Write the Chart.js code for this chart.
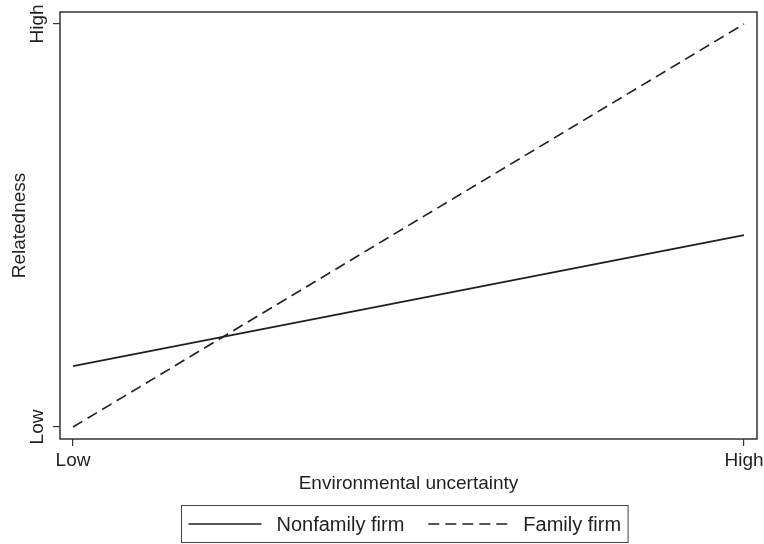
<!DOCTYPE html>
<html>
<head>
<meta charset="utf-8">
<script src="https://cdn.jsdelivr.net/npm/chart.js@4"></script>
<style>
  html, body { margin: 0; padding: 0; background: #fff; }
  #wrap { width: 764px; height: 544px; }
</style>
</head>
<body>
<div id="wrap"><canvas id="chart" width="764" height="544"></canvas></div>
<script>
// Data (0 = Low, 1 = High)
const xTickLabels = ['Low', 'High'];
const yTickLabels = ['Low', 'High'];
const uncertainty = [0, 1];
const nonfamilyFirm = [0.151, 0.476];
const familyFirm = [0.0, 1.0];
const seriesNames = ['Nonfamily firm', 'Family firm'];

const FONT = '"Liberation Sans", Arial, Helvetica, sans-serif';
const INK = '#1f1f1f';

function points(ys) {
    return uncertainty.map((x, i) => ({ x: x, y: ys[i] }));
}

// frame round the plot area
const frame = {
    id: 'frame',
    afterDatasetsDraw(chart) {
        const a = chart.chartArea;
        const ctx = chart.ctx;
        ctx.save();
        ctx.strokeStyle = '#333';
        ctx.lineWidth = 1.5;
        ctx.strokeRect(a.left, a.top, a.right - a.left, a.bottom - a.top);
        ctx.restore();
    }
};

// boxed legend under the axis title
const boxLegend = {
    id: 'boxLegend',
    afterDraw(chart) {
        const ctx = chart.ctx;
        const sets = chart.data.datasets;
        ctx.save();
        ctx.font = '20px ' + FONT;
        const sample = [73, 80];
        const gap = 15, itemGap = 24, pad = 7;
        let total = pad * 2;
        sets.forEach((ds, i) => {
            total += sample[i] + gap + ctx.measureText(ds.label).width;
            if (i > 0) total += itemGap;
        });
        const left = Math.round(404 - total / 2) + 0.5;
        const top = 505.5, h = 37, mid = top + h / 2;
        ctx.strokeStyle = '#444';
        ctx.lineWidth = 1;
        ctx.strokeRect(left, top, total, h);
        let x = left + pad;
        sets.forEach((ds, i) => {
            if (i > 0) x += itemGap;
            ctx.beginPath();
            ctx.setLineDash(ds.borderDash || []);
            ctx.strokeStyle = ds.borderColor;
            ctx.lineWidth = ds.borderWidth;
            ctx.moveTo(x, mid);
            ctx.lineTo(x + sample[i], mid);
            ctx.stroke();
            ctx.setLineDash([]);
            x += sample[i] + gap;
            ctx.fillStyle = INK;
            ctx.textBaseline = 'middle';
            ctx.textAlign = 'left';
            ctx.fillText(ds.label, x, mid + 1);
            x += ctx.measureText(ds.label).width;
        });
        ctx.restore();
    }
};

const tickFont = { family: FONT, size: 19 };

new Chart(document.getElementById('chart'), {
    type: 'line',
    data: {
        datasets: [
            {
                label: seriesNames[0],
                data: points(nonfamilyFirm),
                borderColor: INK,
                borderWidth: 1.7,
                pointRadius: 0,
                fill: false
            },
            {
                label: seriesNames[1],
                data: points(familyFirm),
                borderColor: INK,
                borderWidth: 1.6,
                borderDash: [11, 6],
                pointRadius: 0,
                fill: false
            }
        ]
    },
    options: {
        responsive: false,
        animation: false,
        devicePixelRatio: 1,
        layout: { padding: { top: 12, right: 7, bottom: 49, left: 0 } },
        plugins: {
            legend: { display: false },
            tooltip: { enabled: false }
        },
        scales: {
            x: {
                type: 'linear',
                min: -0.01937,
                max: 1.0194,
                afterBuildTicks: (scale) => {
                    scale.ticks = uncertainty.map(v => ({ value: v }));
                },
                afterFit: (scale) => {
                    scale.height = 56;
                    scale.paddingLeft = 0;
                    scale.paddingRight = 0;
                },
                ticks: {
                    color: INK,
                    font: tickFont,
                    padding: 3,
                    maxRotation: 0,
                    callback: (v) => xTickLabels[uncertainty.indexOf(v)]
                },
                grid: {
                    drawOnChartArea: false,
                    drawTicks: true,
                    tickLength: 7,
                    color: '#333',
                    lineWidth: 1.2
                },
                border: { display: false },
                title: {
                    display: true,
                    text: 'Environmental uncertainty',
                    color: INK,
                    font: tickFont,
                    padding: { top: 0, bottom: 0 }
                }
            },
            y: {
                type: 'linear',
                min: -0.0298,
                max: 1.0298,
                afterBuildTicks: (scale) => {
                    scale.ticks = [0, 1].map(v => ({ value: v }));
                },
                afterFit: (scale) => { scale.width = 60; },
                ticks: {
                    color: INK,
                    font: tickFont,
                    padding: -4,
                    minRotation: 90,
                    maxRotation: 90,
                    crossAlign: 'center',
                    callback: (v) => yTickLabels[v]
                },
                grid: {
                    drawOnChartArea: false,
                    drawTicks: true,
                    tickLength: 7,
                    color: '#333',
                    lineWidth: 1.2
                },
                border: { display: false },
                title: {
                    display: true,
                    text: 'Relatedness',
                    color: INK,
                    font: tickFont,
                    padding: { top: 8, bottom: 0 }
                }
            }
        }
    },
    plugins: [frame, boxLegend]
});
</script>
</body>
</html>
